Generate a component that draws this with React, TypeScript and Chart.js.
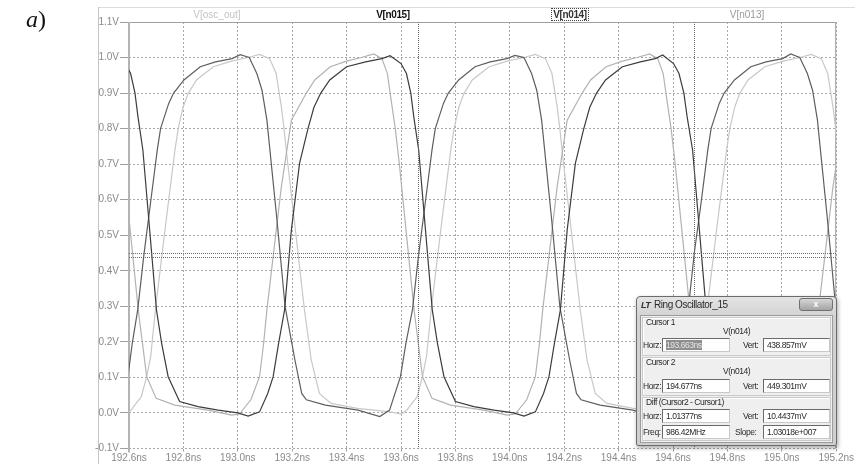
import React, { useEffect, useRef } from "react";
import { Chart, registerables } from "chart.js";

Chart.register(...registerables);

// ---- axis ranges and tick labels ----
const timeMin = 192.6;
const timeMax = 195.2;
const voltMin = -0.1;
const voltMax = 1.1;
const xTickLabels = ["192.6ns", "192.8ns", "193.0ns", "193.2ns", "193.4ns", "193.6ns", "193.8ns", "194.0ns", "194.2ns", "194.4ns", "194.6ns", "194.8ns", "195.0ns", "195.2ns"];
const yTickLabels = ["-0.1V", "0.0V", "0.1V", "0.2V", "0.3V", "0.4V", "0.5V", "0.6V", "0.7V", "0.8V", "0.9V", "1.0V", "1.1V"];

// ---- traces: [time ns, volts] ----
const n015: [number, number][] = [
  [192.516, 0.997], [192.546, 1.005], [192.586, 0.983], [192.606, 0.955], [192.622, 0.9], [192.633, 0.833], [192.651, 0.74], [192.701, 0.29], [192.72, 0.196], [192.744, 0.102], [192.786, 0.032], [192.854, 0.018], [192.928, 0.008], [193.0, 0.0],
  [193.038, -0.009], [193.08, 0.003], [193.11, 0.055], [193.13, 0.102], [193.15, 0.196], [193.172, 0.29], [193.197, 0.515], [193.227, 0.702], [193.258, 0.8], [193.28, 0.86], [193.305, 0.9], [193.338, 0.937], [193.4, 0.974], [193.47, 0.988], [193.53, 0.997], [193.56, 1.005], [193.6, 0.983], [193.62, 0.955], [193.636, 0.9], [193.647, 0.833], [193.665, 0.74], [193.715, 0.29], [193.734, 0.196], [193.758, 0.102], [193.8, 0.032], [193.868, 0.018], [193.942, 0.008], [194.014, 0.0],
  [194.052, -0.009], [194.094, 0.003], [194.124, 0.055], [194.144, 0.102], [194.164, 0.196], [194.186, 0.29], [194.211, 0.515], [194.241, 0.702], [194.272, 0.8], [194.294, 0.86], [194.319, 0.9], [194.352, 0.937], [194.414, 0.974], [194.48, 0.988], [194.535, 0.997], [194.562, 1.007], [194.602, 0.983], [194.622, 0.955], [194.64, 0.9], [194.652, 0.833], [194.672, 0.74], [194.722, 0.29], [194.741, 0.196], [194.765, 0.102], [194.807, 0.032], [194.875, 0.018], [194.95, 0.008], [195.024, 0.0],
  [195.066, -0.009], [195.108, 0.003], [195.138, 0.055], [195.158, 0.102], [195.178, 0.196], [195.2, 0.29], [195.225, 0.515],
];

const n014: [number, number][] = [
  [192.51, -0.01], [192.552, 0.008], [192.596, 0.102], [192.612, 0.196], [192.632, 0.29], [192.654, 0.44], [192.679, 0.59], [192.704, 0.74], [192.716, 0.8], [192.746, 0.871], [192.764, 0.9], [192.802, 0.937], [192.862, 0.974], [192.918, 0.988], [192.979, 0.997], [193.009, 1.008], [193.042, 1.0], [193.07, 0.955], [193.089, 0.908], [193.107, 0.824], [193.144, 0.543], [193.174, 0.299], [193.21, 0.149], [193.235, 0.055], [193.252, 0.037], [193.322, 0.022], [193.382, 0.015], [193.442, 0.008], [193.522, -0.01],
  [193.558, 0.008], [193.598, 0.102], [193.618, 0.196], [193.642, 0.29], [193.664, 0.44], [193.689, 0.59], [193.714, 0.74], [193.726, 0.8], [193.756, 0.871], [193.774, 0.9], [193.812, 0.937], [193.872, 0.974], [193.928, 0.988], [193.989, 0.997], [194.019, 1.006], [194.052, 1.0], [194.08, 0.955], [194.099, 0.908], [194.117, 0.824], [194.154, 0.543], [194.184, 0.299], [194.22, 0.149], [194.245, 0.055], [194.262, 0.037], [194.332, 0.022], [194.392, 0.015], [194.452, 0.008], [194.532, -0.01],
  [194.572, 0.008], [194.612, 0.102], [194.632, 0.196], [194.656, 0.29], [194.678, 0.449], [194.703, 0.59], [194.728, 0.74], [194.74, 0.8], [194.77, 0.871], [194.788, 0.9], [194.826, 0.937], [194.886, 0.974], [194.942, 0.988], [195.003, 0.997], [195.033, 1.01], [195.066, 1.0], [195.094, 0.955], [195.113, 0.908], [195.131, 0.824], [195.168, 0.543], [195.198, 0.299], [195.234, 0.149], [195.259, 0.055],
];

const n013: [number, number][] = [
  [192.486, 1.01], [192.516, 0.997], [192.536, 0.955], [192.546, 0.9], [192.565, 0.8], [192.58, 0.7], [192.634, 0.29], [192.665, 0.102], [192.7, 0.041], [192.768, 0.022], [192.89, 0.008], [192.977, -0.006], [193.006, -0.003], [193.048, 0.037], [193.08, 0.102], [193.095, 0.196], [193.107, 0.29], [193.16, 0.636], [193.197, 0.824], [193.252, 0.9], [193.283, 0.937], [193.34, 0.974], [193.4, 0.99], [193.454, 1.0], [193.5, 1.01], [193.53, 0.997], [193.55, 0.955], [193.56, 0.9], [193.579, 0.8], [193.594, 0.7],
  [193.648, 0.29], [193.679, 0.102], [193.714, 0.041], [193.782, 0.022], [193.904, 0.008], [193.991, -0.006], [194.02, -0.003], [194.062, 0.037], [194.094, 0.102], [194.109, 0.196], [194.121, 0.29], [194.174, 0.636], [194.211, 0.824], [194.266, 0.9], [194.297, 0.937], [194.354, 0.974], [194.414, 0.99], [194.468, 1.0], [194.514, 1.01], [194.544, 0.997], [194.564, 0.955], [194.574, 0.9], [194.593, 0.8], [194.608, 0.7],
  [194.662, 0.29], [194.693, 0.102], [194.728, 0.041], [194.796, 0.022], [194.918, 0.008], [195.005, -0.006], [195.034, -0.003], [195.076, 0.037], [195.108, 0.102], [195.123, 0.196], [195.135, 0.29], [195.188, 0.636], [195.225, 0.824],
];

const oscOut: [number, number][] = [
  [192.587, -0.003], [192.608, 0.008], [192.626, 0.027], [192.645, 0.045], [192.665, 0.102], [192.68, 0.16], [192.697, 0.29], [192.733, 0.52], [192.769, 0.74], [192.781, 0.8], [192.799, 0.861], [192.818, 0.9], [192.848, 0.937], [192.91, 0.974], [192.977, 0.99], [193.038, 1.0], [193.08, 1.009], [193.117, 0.997], [193.141, 0.955], [193.16, 0.862], [193.17, 0.8], [193.178, 0.74], [193.211, 0.52], [193.245, 0.29], [193.27, 0.149], [193.3, 0.055], [193.343, 0.027], [193.44, 0.013], [193.56, 0.003], [193.601, -0.003],
  [193.622, 0.008], [193.64, 0.027], [193.659, 0.045], [193.679, 0.102], [193.694, 0.16], [193.711, 0.29], [193.747, 0.52], [193.783, 0.74], [193.795, 0.8], [193.813, 0.861], [193.832, 0.9], [193.862, 0.937], [193.924, 0.974], [193.991, 0.99], [194.052, 1.0], [194.094, 1.009], [194.131, 0.997], [194.155, 0.955], [194.174, 0.862], [194.184, 0.8], [194.192, 0.74], [194.225, 0.52], [194.259, 0.29], [194.284, 0.149], [194.314, 0.055], [194.357, 0.027], [194.454, 0.013], [194.574, 0.003], [194.615, -0.003],
  [194.636, 0.008], [194.654, 0.027], [194.673, 0.045], [194.693, 0.102], [194.708, 0.16], [194.725, 0.29], [194.761, 0.52], [194.797, 0.74], [194.809, 0.8], [194.827, 0.861], [194.846, 0.9], [194.876, 0.937], [194.938, 0.974], [195.005, 0.99], [195.066, 1.0], [195.108, 1.009], [195.145, 0.997], [195.169, 0.955], [195.188, 0.862], [195.198, 0.8], [195.206, 0.74], [195.239, 0.52],
];

// ---- cursors (V(n014)) ----
const cursorTimes = [193.663, 194.677];
const cursorVolts = [0.438857, 0.449301];

const toXY = (pts: [number, number][]) => pts.map(([x, y]) => ({ x, y }));

const framePlugin = {
  id: "ltFrame",
  beforeDatasetsDraw(chart: any) {
    const { ctx, chartArea: a } = chart;
    ctx.save();
    ctx.strokeStyle = "#a0a0a0";
    ctx.lineWidth = 1;
    ctx.beginPath();
    ctx.moveTo(a.left, a.top + 0.5);
    ctx.lineTo(a.right - 0.5, a.top + 0.5);
    ctx.lineTo(a.right - 0.5, a.bottom);
    ctx.stroke();
    ctx.strokeStyle = "#b4b4b4";
    ctx.lineWidth = 2;
    ctx.beginPath();
    ctx.moveTo(a.left, a.top);
    ctx.lineTo(a.left, a.bottom + 4);
    ctx.stroke();
    ctx.restore();
  },
  afterDatasetsDraw(chart: any) {
    const { ctx, chartArea: a, scales } = chart;
    ctx.save();
    ctx.strokeStyle = "#6e6e6e";
    ctx.lineWidth = 1;
    ctx.setLineDash([1, 1]);
    cursorTimes.forEach((t) => {
      const x = Math.round(scales.x.getPixelForValue(t)) + 0.5;
      ctx.beginPath();
      ctx.moveTo(x, a.top);
      ctx.lineTo(x, a.bottom);
      ctx.stroke();
    });
    cursorVolts.forEach((v) => {
      const y = Math.round(scales.y.getPixelForValue(v)) + 0.5;
      ctx.beginPath();
      ctx.moveTo(a.left, y);
      ctx.lineTo(a.right, y);
      ctx.stroke();
    });
    ctx.restore();
  },
};

const labelFont = { family: "'Liberation Sans', Arial, sans-serif", size: 10 };

function WaveChart() {
  const ref = useRef<HTMLCanvasElement | null>(null);
  useEffect(() => {
    if (!ref.current) return;
    const line = (data: [number, number][], color: string, w: number) => ({
      data: toXY(data),
      borderColor: color,
      borderWidth: w,
      pointRadius: 0,
      tension: 0,
      fill: false,
    });
    const chart = new Chart(ref.current, {
      type: "line",
      data: {
        datasets: [
          { label: "V[n015]", ...line(n015, "#3c3c3c", 1.2) },
          { label: "V[n014]", ...line(n014, "#5e5e5e", 1.2) },
          { label: "V[n013]", ...line(n013, "#b2b2b2", 1.2) },
          { label: "V[osc_out]", ...line(oscOut, "#c8c8c8", 1.2) },
        ],
      },
      options: {
        responsive: false,
        animation: false,
        events: [],
        layout: { padding: { left: 0, right: 17, top: 22, bottom: 0 } },
        plugins: { legend: { display: false }, tooltip: { enabled: false } },
        scales: {
          x: {
            type: "linear",
            min: timeMin,
            max: timeMax,
            afterFit: (s: any) => {
              s.height = 15.5;
            },
            ticks: {
              stepSize: 0.2,
              autoSkip: false,
              maxRotation: 0,
              minRotation: 0,
              padding: 1,
              color: "#8a8a8a",
              font: labelFont,
              callback: (_v: any, i: number) => xTickLabels[i] ?? "",
            },
            grid: { color: "#a8a8a8", lineWidth: 1, drawTicks: true, tickLength: 3, tickColor: "#a0a0a0", tickBorderDash: [] },
            border: { display: false, dash: [2, 2] },
          },
          y: {
            type: "linear",
            min: voltMin,
            max: voltMax,
            afterFit: (s: any) => {
              s.width = 129;
            },
            ticks: {
              stepSize: 0.1,
              padding: 1,
              color: "#8a8a8a",
              font: labelFont,
              callback: (_v: any, i: number) => yTickLabels[i] ?? "",
            },
            grid: { color: "#a8a8a8", lineWidth: 1, drawTicks: true, tickLength: 9, tickColor: "#a0a0a0", tickBorderDash: [] },
            border: { display: false, dash: [2, 2] },
          },
        },
      },
      plugins: [framePlugin],
    } as any);
    return () => chart.destroy();
  }, []);
  return <canvas ref={ref} width={855} height={464} style={{ display: "block", position: "absolute", left: 0, top: 0 }} />;
}

const abs = (left: number, top: number, extra: React.CSSProperties = {}): React.CSSProperties => ({
  position: "absolute",
  left,
  top,
  whiteSpace: "nowrap",
  ...extra,
});

const dlgFont: React.CSSProperties = {
  fontFamily: "'Liberation Sans', Arial, sans-serif",
  fontSize: 8.5,
  lineHeight: "10px",
  letterSpacing: -0.45,
  color: "#2a2a2a",
};

function Field({ left, top, width, height, text, selected }: { left: number; top: number; width: number; height: number; text: string; selected?: boolean }) {
  return (
    <div
      style={abs(left, top, {
        width,
        height,
        boxSizing: "border-box",
        background: "#ffffff",
        borderTop: "1px solid #6a6a6a",
        borderLeft: "1px solid #6a6a6a",
        borderRight: "1px solid #c8c8c8",
        borderBottom: "1px solid #c8c8c8",
        ...dlgFont,
        lineHeight: `${height - 2}px`,
        paddingLeft: 3,
      })}
    >
      {selected ? <span style={{ background: "#8e8e8e", color: "#e6e6e6" }}>{text}</span> : text}
    </div>
  );
}

function Dialog() {
  const t = (left: number, top: number, text: string, extra: React.CSSProperties = {}) => (
    <div style={abs(left, top, { ...dlgFont, ...extra })}>{text}</div>
  );
  const group = (top: number, height: number) => (
    <div style={abs(642, top, { width: 189, height, boxSizing: "border-box", border: "1px solid #c9c9c9", boxShadow: "inset 1px 1px 0 #ffffff" })} />
  );
  return (
    <>
      <div
        style={abs(636, 296, {
          width: 201,
          height: 150,
          boxSizing: "border-box",
          border: "1px solid #6c6c6c",
          borderRadius: "4px 4px 2px 2px",
          background: "linear-gradient(#e4e4e4, #d2d2d2 20px, #cfcfcf)",
          boxShadow: "1px 2px 4px rgba(0,0,0,0.35)",
        })}
      />
      <div style={abs(641, 300, { fontFamily: "'Liberation Sans', Arial", fontSize: 9, fontWeight: "bold", fontStyle: "italic", color: "#333", letterSpacing: -0.5 })}>LT</div>
      <div style={abs(654, 299, { ...dlgFont, fontSize: 10, lineHeight: "12px", letterSpacing: -0.45 })}>Ring Oscillator_15</div>
      <div
        style={abs(799, 298, {
          width: 34,
          height: 13,
          boxSizing: "border-box",
          border: "1px solid #707070",
          borderRadius: 3,
          background: "linear-gradient(#d6d6d6, #a4a4a4)",
          color: "#ffffff",
          fontFamily: "'Liberation Sans', Arial",
          fontWeight: "bold",
          fontSize: 9,
          lineHeight: "11px",
          textAlign: "center",
        })}
      >
        x
      </div>
      <div style={abs(640, 315, { width: 193, height: 128, boxSizing: "border-box", background: "#efefef", border: "1px solid #9c9c9c" })} />
      {group(317, 39)}
      {group(357, 39)}
      {group(397, 44)}
      {t(646, 317, "Cursor 1")}
      {t(723, 326, "V(n014)")}
      {t(643, 340, "Horz:")}
      <Field left={662} top={338} width={68} height={14} text="193.663ns" selected />
      {t(743, 340, "Vert:")}
      <Field left={763} top={338} width={67} height={14} text="438.857mV" />
      {t(646, 357, "Cursor 2")}
      {t(723, 366, "V(n014)")}
      {t(643, 381, "Horz:")}
      <Field left={662} top={379} width={68} height={14} text="194.677ns" />
      {t(743, 381, "Vert:")}
      <Field left={763} top={379} width={67} height={14} text="449.301mV" />
      {t(646, 397, "Diff (Cursor2 - Cursor1)")}
      {t(643, 411, "Horz:")}
      <Field left={662} top={409} width={68} height={14} text="1.01377ns" />
      {t(743, 411, "Vert:")}
      <Field left={763} top={409} width={67} height={14} text="10.4437mV" />
      {t(643, 427, "Freq:")}
      <Field left={662} top={425} width={68} height={14} text="986.42MHz" />
      {t(735, 427, "Slope:")}
      <Field left={763} top={425} width={67} height={14} text="1.03018e+007" />
    </>
  );
}

export default function App() {
  const traceLabel = (center: number, text: string, color: string, bold: boolean, boxed = false) => (
    <div
      style={abs(center - 40, 9, {
        width: 80,
        textAlign: "center",
        fontFamily: "'Liberation Sans', Arial, sans-serif",
        fontSize: 10,
        lineHeight: "12px",
        color,
        fontWeight: bold ? "bold" : "normal",
        letterSpacing: bold ? -0.4 : 0,
      })}
    >
      <span style={boxed ? { outline: "1px dotted #444", outlineOffset: 0, padding: "0 1px" } : {}}>{text}</span>
    </div>
  );
  return (
    <div style={{ position: "fixed", left: 0, top: 0, width: 855, height: 464, background: "#ffffff", overflow: "hidden" }}>
      <div style={abs(98, 7, { width: 757, height: 0, borderTop: "1px solid #dcdcdc" })} />
      <div style={abs(98, 7, { width: 0, height: 457, borderLeft: "1px solid #c4c4c4" })} />
      <WaveChart />
      <div style={abs(26, 6, { fontFamily: "'Liberation Serif', 'Times New Roman', serif", fontSize: 24, color: "#111" })}>
        <i>a</i>)
      </div>
      {traceLabel(217, "V[osc_out]", "#c4c4c4", false)}
      {traceLabel(393, "V[n015]", "#111111", true)}
      {traceLabel(570, "V[n014]", "#333333", true, true)}
      {traceLabel(747, "V[n013]", "#999999", false)}
      <Dialog />
    </div>
  );
}
